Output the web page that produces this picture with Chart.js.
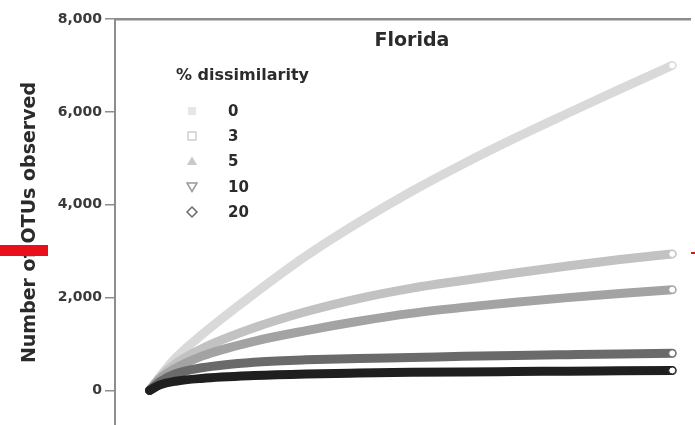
<!DOCTYPE html>
<html>
<head>
<meta charset="utf-8">
<script src="https://cdn.jsdelivr.net/npm/chart.js@4.4.1/dist/chart.umd.min.js"></script>
<style>
    body { margin: 0; background: #fff; }
    #wrap { position: relative; width: 695px; height: 425px; overflow: hidden; }
    #chart-title {
        position: absolute; left: 337px; top: 28px; width: 150px; text-align: center;
        font: bold 19px "DejaVu Sans", sans-serif; color: #2b2b2b;
    }
    #legend {
        position: absolute; left: 176px; top: 65px;
        font: bold 15px "DejaVu Sans", sans-serif; color: #2b2b2b;
    }
    #legend .row { display: flex; align-items: center; height: 25.3px; }
    #legend .row svg { margin-left: 9px; width: 14px; height: 14px; }
    #legend .row span { margin-left: 29px; }
    #legend .head { font-size: 16px; height: 22px; margin-bottom: 11px; }
    .mark-red { position: absolute; background: #e8101a; }
</style>
</head>
<body>
<div id="wrap">
    <!-- canvas is a little taller than the frame so the plot runs off the bottom edge -->
    <canvas id="otuChart" width="695" height="431"></canvas>
    <div id="chart-title">Florida</div>
    <div id="legend"></div>
    <div class="mark-red" style="left:0; top:245px; width:48px; height:11px;"></div>
    <div class="mark-red" style="left:691px; top:252px; width:4px; height:2px;"></div>
</div>
<script>
// sampling effort (arbitrary units, 0 .. 100 = last point of the curves)
const effort = [0, 2, 5, 10, 20, 30, 40, 50, 60, 70, 80, 90, 100];

// OTUs observed
const otu0  = [0, 300, 700, 1200, 2080, 2900, 3620, 4280, 4880, 5440, 5970, 6490, 7000];
const otu3  = [0, 280, 580, 900, 1350, 1700, 1980, 2200, 2370, 2530, 2680, 2820, 2940];
const otu5  = [0, 250, 480, 740, 1060, 1290, 1490, 1660, 1790, 1900, 2000, 2090, 2170];
const otu10 = [0, 190, 360, 490, 610, 660, 690, 710, 735, 755, 772, 788, 800];
const otu20 = [0, 120, 200, 260, 320, 355, 375, 390, 400, 408, 416, 423, 430];

const seriesLabels = ['0', '3', '5', '10', '20'];
const seriesData = [otu0, otu3, otu5, otu10, otu20];
const seriesColors = ['#d9d9d9', '#c2c2c2', '#a3a3a3', '#6a6a6a', '#1f1f1f'];
const legendShapes = ['square', 'openSquare', 'triangle', 'downTriangle', 'diamond'];
const legendMarkColors = ['#e6e6e6', '#cfcfcf', '#c8c8c8', '#9a9a9a', '#6a6a6a'];

const yTicks = [0, 2000, 4000, 6000, 8000];

const datasets = seriesData.map((vals, i) => ({
    label: seriesLabels[i],
    data: vals.map((v, j) => ({ x: effort[j], y: v })),
    borderColor: seriesColors[i],
    borderWidth: 9,
    borderCapStyle: 'round',
    borderJoinStyle: 'round',
    cubicInterpolationMode: 'monotone',
    pointRadius: ctx => ctx.dataIndex === vals.length - 1 ? 3.5 : 0,
    pointBackgroundColor: '#ffffff',
    pointBorderColor: seriesColors[i],
    pointBorderWidth: 1,
    order: seriesData.length - 1 - i,
    fill: false
}));

new Chart(document.getElementById('otuChart'), {
    type: 'line',
    data: { datasets: datasets },
    options: {
        responsive: false,
        animation: false,
        layout: { padding: { top: 19, left: 0, right: 0, bottom: 0 } },
        plugins: { legend: { display: false }, tooltip: { enabled: false } },
        scales: {
            x: {
                type: 'linear',
                position: 'top',
                min: -6.6,
                max: 103.4,
                grid: { display: false },
                ticks: { display: false },
                border: { color: '#8d8d8d', width: 2.5 },
                afterFit: scale => { scale.height = 0; }
            },
            y: {
                min: -765,
                max: 8000,
                afterBuildTicks: scale => { scale.ticks = yTicks.map(v => ({ value: v })); },
                ticks: {
                    color: '#3a3a3a',
                    padding: 3,
                    font: { family: 'DejaVu Sans', size: 14, weight: 'bold' },
                    callback: v => v.toLocaleString('en-US')
                },
                grid: { drawOnChartArea: false, tickLength: 10, color: '#8d8d8d', lineWidth: 1.5 },
                border: { color: '#8d8d8d', width: 2 },
                title: {
                    display: true,
                    text: 'Number of OTUs observed',
                    color: '#2b2b2b',
                    font: { family: 'DejaVu Sans', size: 19, weight: 'bold' },
                    padding: { top: 19, bottom: 0 }
                },
                afterFit: scale => {
                    scale.width = 115;
                    scale.paddingBottom = 0;
                    scale.paddingTop = 0;
                }
            }
        }
    }
});

// legend built from the same label/colour arrays
function shapeSvg(shape, color) {
    const s = {
        square: `<rect x="3" y="3" width="8" height="8" fill="${color}"/>`,
        openSquare: `<rect x="3" y="3" width="8" height="8" fill="#fff" stroke="${color}" stroke-width="1.5"/>`,
        triangle: `<polygon points="7,2.5 12,11 2,11" fill="${color}"/>`,
        downTriangle: `<polygon points="2,3 12,3 7,11.5" fill="#fff" stroke="${color}" stroke-width="1.5"/>`,
        diamond: `<polygon points="7,2 12,7 7,12 2,7" fill="#fff" stroke="${color}" stroke-width="1.5"/>`
    }[shape];
    return `<svg viewBox="0 0 14 14">${s}</svg>`;
}

const legendEl = document.getElementById('legend');
legendEl.innerHTML = '<div class="head">% dissimilarity</div>' +
    seriesLabels.map((lab, i) =>
        `<div class="row">${shapeSvg(legendShapes[i], legendMarkColors[i])}<span>${lab}</span></div>`
    ).join('');
</script>
</body>
</html>
